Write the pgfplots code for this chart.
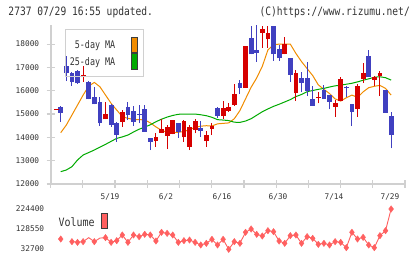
\documentclass[border=0pt]{standalone}
\usepackage{pgfplots}
\pgfplotsset{compat=1.18}
\usepackage{pgfplotstable}
\usepackage{fontspec}
\newfontfamily\mono{DejaVu Sans Mono}
\definecolor{cblue}{RGB}{64,64,192}
\definecolor{cred}{RGB}{214,0,0}
\definecolor{corange}{RGB}{240,140,0}
\definecolor{cgreen}{RGB}{0,170,0}
\definecolor{cvol}{RGB}{255,96,96}
\definecolor{cgrid}{RGB}{208,208,208}
\definecolor{ctext}{RGB}{51,51,51}
\definecolor{cdark}{RGB}{60,60,60}

% candles: x, body low, body high, wick low, wick high
\pgfplotstableread{
x bl bh wl wh
0 15056 15287 14670 15330
1 16770 17057 16414 17486
2 16384 16744 16213 16813
3 16316 16856 16300 16886
5 15630 16384 15630 16414
6 15416 15742 15416 16170
7 14602 15527 14499 15742
9 14529 15386 14456 15416
10 14100 14602 13813 14670
12 14957 15313 14743 15527
13 14670 15129 14500 15343
14 14960 15000 14602 15386
15 14242 15214 14242 15386
16 13813 13959 13457 13959
21 14242 14602 13985 14602
25 14271 14413 14028 14700
28 14914 15244 14816 15287
32 16127 16342 15857 16457
34 17559 18245 17559 18772
35 17600 17743 17243 18815
38 17559 18772 17286 18772
39 17386 17772 17286 17957
41 16672 17386 16384 17386
43 16342 16527 15956 16813
44 15999 16527 15771 17243
45 15356 15630 15356 16200
47 15643 16043 15643 16243
48 15527 15814 15202 15814
51 16100 16170 15742 16213
52 15100 15429 14486 15429
55 16600 17486 16600 17743
58 15056 16029 15056 16029
59 14100 14914 13530 15100
}\bluec
\pgfplotstableread{
x bl bh wl wh
-0.8 15180 15220 15180 15220
4 16573 16672 16384 17057
8 14773 15000 14773 15527
11 14670 15073 14456 15172
17 13843 14000 13600 14199
18 14199 14343 14199 14773
19 14070 14428 13500 14529
20 14130 14743 14130 14743
22 14000 14700 13813 14743
23 13600 14456 13457 14529
24 14314 14700 14171 14773
26 13843 14100 13600 14271
27 14371 14486 14100 14600
29 14914 15244 14773 15570
30 15141 15287 15100 15459
31 15386 15857 15360 16286
33 16127 17914 16127 17914
36 18485 18630 17842 18772
37 18200 18457 17842 18772
40 17559 18000 17559 18314
42 15887 16772 15570 16886
46 15700 15730 15459 15956
49 15313 15459 14886 15600
50 15557 16486 15557 16573
53 15214 16200 14886 16286
54 16486 16772 16342 17200
56 16457 16573 16213 16629
57 16629 16772 15771 16856
}\redc
% moving averages: 5-day (o), 25-day (g)
\pgfplotstableread{
x o g
0 14200 12529
1 14529 12600
2 14957 12743
3 15386 13029
4 15814 13243
5 16200 13350
6 16357 13457
7 16170 13580
8 15814 13700
9 15459 13830
10 15172 13957
11 14886 14020
12 14816 14100
13 14771 14230
14 14760 14350
15 14750 14440
16 14620 14540
17 14450 14670
18 14300 14780
19 14220 14870
20 14200 14940
21 14220 14990
22 14250 15000
23 14330 15000
24 14430 15000
25 14480 14970
26 14500 14930
27 14490 14860
28 14580 14760
29 14600 14743
30 14620 14720
31 14800 14650
32 15150 14643
33 15650 14700
34 16150 14800
35 16550 14950
36 17050 15100
37 17750 15220
38 17970 15330
39 18000 15420
40 18000 15520
41 18000 15620
42 17600 15750
43 17250 15840
44 16950 15960
45 16650 16010
46 16250 16060
47 16060 16100
48 15880 16160
49 15650 16210
50 15557 16240
51 15700 16280
52 15814 16320
53 15716 16380
54 15950 16450
55 16130 16510
56 16190 16580
57 16230 16600
58 16100 16560
59 15814 16457
}\ma
% volume (v: line, m: markers)
\pgfplotstableread{
x v m
0 80600 80600
1 nan nan
2 67800 67800
3 64600 64600
4 67800 67800
5 87000 nan
6 67800 67800
7 85000 nan
8 87000 87000
9 64600 64600
10 72600 72600
11 99800 99800
12 64600 64600
13 99800 99800
14 91800 91800
15 103000 103000
16 99800 99800
17 71000 71000
18 112700 112700
19 107800 107800
20 99800 99800
21 64600 64600
22 72600 72600
23 75800 75800
24 64600 64600
25 51900 51900
26 59900 59900
27 79000 79000
28 51900 51900
29 79000 79000
30 31100 31100
31 67800 67800
32 59900 59900
33 112700 112700
34 128600 128600
35 103000 103000
36 95000 95000
37 120400 120400
38 115600 115600
39 71000 71000
40 59900 59900
41 96600 96600
42 99800 99800
43 59900 59900
44 91800 91800
45 83800 83800
46 55100 55100
47 59900 59900
48 51900 51900
49 67800 67800
50 64600 64600
51 39100 39100
52 112700 112700
53 80600 80600
54 88600 88600
55 51900 51900
56 39100 39100
57 96600 96600
58 120400 120400
59 224400 224400
}\vol

\begin{document}
\begin{tikzpicture}[x=1pt,y=1pt]
\path[use as bounding box] (0,0) rectangle (420,259);
\begin{axis}[
  at={(50.7pt,75pt)}, anchor=south west,
  scale only axis, width=354.3pt, height=159pt,
  xmin=-1.79, xmax=61.48, ymin=12000, ymax=18820,
  scaled x ticks=false, scaled y ticks=false,
  axis lines*=left,
  axis line style={draw=cgrid, line width=1.6pt},
  tick style={draw=cgrid, line width=1.2pt},
  tick align=center, major tick length=8pt,
  xtick={-1.79,3.96,9.71,15.47,21.22,26.97,32.72,38.47,44.22,49.98,55.73,61.48},
  xticklabels={,,,,,,,,,,,},
  extra x ticks={8.8,18.8,28.8,38.8,48.8,58.8},
  extra x tick labels={5/19,6/2,6/16,6/30,7/14,7/29},
  extra x tick style={major tick length=0pt, tick style={draw=none},
    xticklabel style={yshift=-6pt}},
  ytick={12000,13000,14000,15000,16000,17000,18000},
  yticklabels={12000,13000,14000,15000,16000,17000,18000},
  ticklabel style={font=\mono\fontsize{7.8}{9}\selectfont, text=ctext},
  yticklabel style={xshift=-4pt},
  clip=false,
]
\addplot[corange, line width=1pt, mark=none] table[x=x,y=o] {\ma};
\addplot[cgreen, line width=1pt, mark=none] table[x=x,y=g] {\ma};
\addplot[draw=none, mark=none, error bars/.cd, y dir=plus, y explicit, error mark=none,
  error bar style={draw=cblue, line width=1pt}]
  table[x=x,y=wl,y error expr=\thisrow{wh}-\thisrow{wl}] {\bluec};
\addplot[draw=none, mark=none, error bars/.cd, y dir=plus, y explicit, error mark=none,
  error bar style={draw=cblue, line width=4.8pt}]
  table[x=x,y=bl,y error expr=\thisrow{bh}-\thisrow{bl}] {\bluec};
\addplot[draw=none, mark=none, error bars/.cd, y dir=plus, y explicit, error mark=none,
  error bar style={draw=cred, line width=1pt}]
  table[x=x,y=wl,y error expr=\thisrow{wh}-\thisrow{wl}] {\redc};
\addplot[draw=none, mark=none, error bars/.cd, y dir=plus, y explicit, error mark=none,
  error bar style={draw=cred, line width=4.8pt}]
  table[x=x,y=bl,y error expr=\thisrow{bh}-\thisrow{bl}] {\redc};
\end{axis}
\begin{axis}[
  at={(50.7pt,5pt)}, anchor=south west,
  scale only axis, width=354.3pt, height=49pt,
  xmin=-1.79, xmax=61.48, ymin=8740, ymax=243570,
  scaled x ticks=false, scaled y ticks=false,
  axis lines*=left, axis line style={draw=none},
  xtick=\empty,
  ytick={32700,128550,224400},
  yticklabels={32700,128550,224400},
  major tick length=0pt, tick style={draw=none},
  ticklabel style={font=\mono\fontsize{7.8}{9}\selectfont, text=ctext},
  yticklabel style={xshift=-3pt},
  unbounded coords=jump,
  clip=false,
]
\addplot[cvol, line width=0.9pt, mark=none] table[x=x,y=v] {\vol};
\addplot[cvol, only marks, mark=diamond*, mark size=3.2pt, unbounded coords=discard] table[x=x,y=m] {\vol};
\end{axis}
% header
\node[anchor=west, inner sep=0pt, text=ctext, font=\mono\fontsize{9.6}{11}\selectfont, yscale=1.2] at (8.3,247) {2737 07/29 16:55 updated.};
\node[anchor=east, inner sep=0pt, text=ctext, font=\mono\fontsize{9.6}{11}\selectfont, yscale=1.2] at (410,247) {(C)https://www.rizumu.net/};
% price legend
\draw[draw=cgrid, line width=1pt] (65,229) rectangle (143,182.3);
\node[anchor=east, inner sep=0pt, text=ctext, font=\mono\fontsize{8.4}{10}\selectfont, yscale=1.25] at (115.5,213.2) {5-day MA};
\node[anchor=east, inner sep=0pt, text=ctext, font=\mono\fontsize{8.4}{10}\selectfont, yscale=1.25] at (115.5,196.2) {25-day MA};
\filldraw[fill=corange, draw=cdark, line width=0.8pt] (131.5,206.7) rectangle (137,221.7);
\filldraw[fill=cgreen, draw=cdark, line width=0.8pt] (131.5,189.7) rectangle (137,205.7);
% volume legend
\node[anchor=west, inner sep=0pt, text=ctext, font=\mono\fontsize{10}{12}\selectfont, yscale=1.15] at (58.3,36.5) {Volume};
\filldraw[fill=cvol, draw=cdark, line width=0.8pt] (101.7,30.7) rectangle (107.3,45.7);
\end{tikzpicture}
\end{document}
